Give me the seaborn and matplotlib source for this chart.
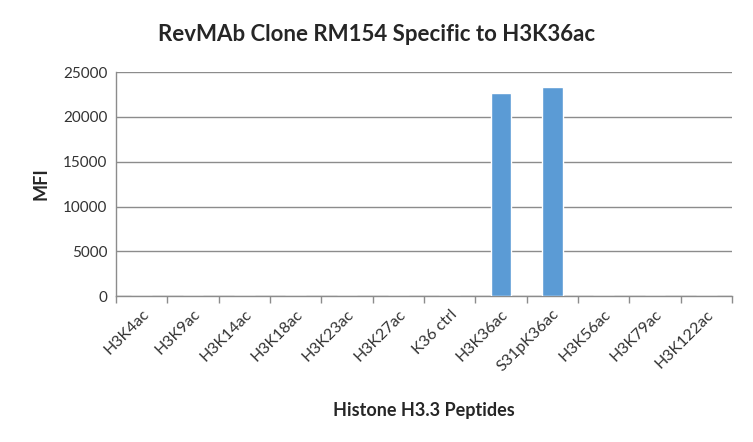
import matplotlib
matplotlib.use("Agg")
import matplotlib.pyplot as plt
import seaborn as sns
import pandas as pd

# --- Data ---
peptides = ["H3K4ac", "H3K9ac", "H3K14ac", "H3K18ac", "H3K23ac", "H3K27ac",
            "K36 ctrl", "H3K36ac", "S31pK36ac", "H3K56ac", "H3K79ac", "H3K122ac"]
mfi = [0, 0, 0, 0, 0, 0, 0, 22650, 23330, 0, 0, 0]
y_ticks = [0, 5000, 10000, 15000, 20000, 25000]

df = pd.DataFrame({"peptide": peptides, "MFI": mfi})

sns.set_style("white")
plt.rcParams["font.family"] = ["Lato", "DejaVu Sans"]

fig = plt.figure(figsize=(7.53, 4.42), dpi=100)
ax = fig.add_axes([0.154, 0.330, 0.818, 0.507])

sns.barplot(data=df, x="peptide", y="MFI", color="#5B9BD5", width=0.4,
            saturation=1, ax=ax, zorder=3)

ax.set_ylim(0, 25000)
ax.set_yticks(y_ticks)
ax.set_yticklabels([str(v) for v in y_ticks], fontsize=11, color="#333333")
ax.yaxis.grid(True, color="#8c8c8c", linewidth=1, zorder=0)
ax.set_xlim(-0.5, len(peptides) - 0.5)

# category boundary ticks
ax.set_xticks([i - 0.5 for i in range(len(peptides) + 1)], minor=True)
ax.tick_params(axis="x", which="minor", length=5, color="#8c8c8c", width=1, direction="out", bottom=True)
ax.tick_params(axis="x", which="major", length=0, pad=8)
ax.tick_params(axis="y", length=0, pad=6)
ax.set_xticks(range(len(peptides)))
ax.set_xticklabels(peptides, rotation=45, ha="right", rotation_mode="anchor",
                   fontsize=11.5, color="#333333")

for side in ["top", "right"]:
    ax.spines[side].set_visible(False)
for side in ["left", "bottom"]:
    ax.spines[side].set_color("#8c8c8c")
    ax.spines[side].set_linewidth(1)

ax.set_xlabel("Histone H3.3 Peptides", fontsize=13, fontweight="bold", labelpad=20)
ax.set_ylabel("MFI", fontsize=13, fontweight="bold", labelpad=10)
fig.suptitle("RevMAb Clone RM154 Specific to H3K36ac", fontsize=16, fontweight="bold",
             x=0.5, y=0.945)

fig.savefig("out.png", dpi=100)
